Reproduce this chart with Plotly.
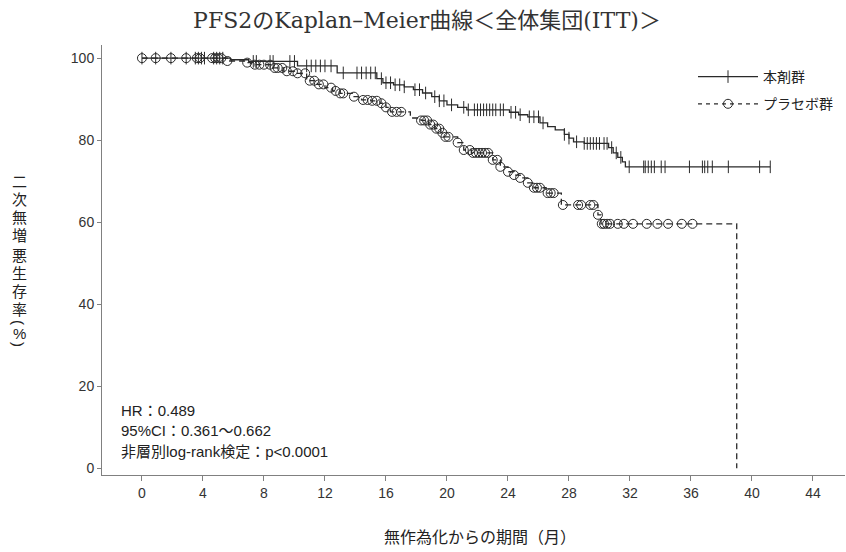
import numpy as np
import plotly.graph_objects as go

# ---- data ----
tx_times = [0, 5.8, 7.0, 10.2, 12.8, 15.4, 15.8, 16.5, 17.2, 17.8, 18.4, 19.0, 19.5, 20.0,
            20.7, 21.3, 24.1, 24.7, 25.3, 26.1, 26.6, 27.1, 27.7, 28.0, 28.3, 29.0, 30.6,
            30.9, 31.2, 31.5, 31.7, 41.2]
tx_surv = [100, 99.6, 99.2, 98.1, 96.4, 95.0, 94.0, 93.5, 93.0, 92.3, 91.5, 90.6, 89.6, 88.6,
           88.0, 87.4, 86.8, 86.2, 85.7, 84.2, 83.3, 82.5, 81.4, 80.5, 79.6, 79.2, 78.2,
           76.9, 75.8, 74.7, 73.5, 73.5]
tx_censor = [0, 0.9, 1.9, 2.9, 3.5, 3.7, 3.9, 4.1, 4.7, 4.9, 5.1, 5.3, 7.3, 7.5, 8.4, 8.6,
             9.7, 10.0, 10.8, 11.1, 11.4, 11.7, 12.0, 12.4, 13.2, 14.1, 14.4, 14.7, 15.0,
             15.3, 15.7, 16.0, 16.3, 16.6, 16.9, 17.2, 17.9, 18.2, 18.6, 19.2, 19.5, 19.8,
             20.3, 21.1, 21.4, 21.8, 22.0, 22.2, 22.4, 22.6, 22.8, 23.0, 23.2, 23.5, 23.7,
             24.2, 24.5, 24.8, 25.4, 25.7, 26.0, 26.3, 27.7, 28.0, 28.5, 29.0, 29.2, 29.4,
             29.6, 29.8, 30.0, 30.3, 30.5, 30.8, 31.1, 31.4, 31.95, 32.9, 33.0, 33.2, 33.4,
             33.6, 34.05, 34.3, 35.9, 36.75, 36.9, 37.1, 37.4, 38.45, 40.5, 41.2]

pl_times = [0, 5.6, 6.9, 7.3, 8.5, 9.3, 10.0, 10.8, 11.5, 12.0, 12.5, 13.0, 13.8, 14.4,
            15.0, 15.6, 16.0, 16.3, 17.6, 18.3, 18.8, 19.2, 19.6, 19.8, 20.7, 21.1, 21.6,
            23.0, 23.5, 24.0, 24.4, 24.8, 25.3, 25.7, 26.5, 27.5, 29.9, 30.1, 39.0]
pl_surv = [100, 99.3, 98.9, 98.4, 97.6, 96.8, 96.3, 94.5, 93.6, 92.8, 92.0, 91.4, 90.6, 89.8,
           89.6, 89.0, 88.0, 86.9, 85.4, 84.8, 83.8, 82.8, 81.8, 80.8, 79.4, 77.6, 76.9,
           75.2, 73.5, 72.3, 71.5, 70.8, 69.6, 68.4, 67.1, 64.2, 61.8, 59.6, 0]
pl_censor = [0, 0.9, 1.9, 2.9, 3.6, 3.8, 4.6, 4.8, 5.0, 5.2, 5.6, 6.9, 7.4, 7.7, 8.0, 8.4,
             8.7, 8.9, 9.2, 9.5, 9.9, 10.2, 10.7, 11.0, 11.3, 11.6, 11.9, 12.4, 12.7, 13.0,
             13.2, 13.9, 14.5, 14.8, 15.1, 15.4, 15.7, 16.0, 16.4, 16.7, 17.0, 18.3, 18.5,
             18.7, 18.9, 19.1, 19.3, 19.5, 19.7, 19.9, 20.1, 20.7, 21.1, 21.5, 21.7, 21.9,
             22.1, 22.3, 22.5, 22.7, 23.0, 23.3, 23.5, 24.0, 24.4, 24.8, 25.3, 25.7, 25.9,
             26.1, 26.6, 26.8, 27.0, 27.6, 28.6, 28.8, 29.4, 29.6, 29.9, 30.15, 30.3, 30.5,
             30.7, 31.2, 31.6, 32.2, 33.1, 33.8, 34.5, 35.4, 36.1]

x_ticks = [0, 4, 8, 12, 16, 20, 24, 28, 32, 36, 40, 44]
y_ticks = [0, 20, 40, 60, 80, 100]

names = ["本剤群", "プラセボ群"]
title_text = "PFS2のKaplan–Meier曲線＜全体集団(ITT)＞"
x_title = "無作為化からの期間（月）"
y_title_chars = ["二", "次", "無", "増", "悪", "生", "存", "率", "(", "%", ")"]
y_title_rot = [0, 0, 0, 0, 0, 0, 0, 0, 90, 0, 90]
y_title_pos = [181, 199, 217, 236, 255, 273, 291, 309, 322, 333, 344]  # layout (px)
stats_lines = ["HR：0.489", "95%CI：0.361〜0.662", "非層別log-rank検定：p<0.0001"]


def surv_at(times, surv, ts):
    times = np.asarray(times)
    surv = np.asarray(surv)
    idx = np.searchsorted(times, np.asarray(ts), side="right") - 1
    return surv[idx]


SANS = "Liberation Sans, Noto Sans CJK JP, sans-serif"
SERIF = "DejaVu Serif, Noto Sans CJK JP, serif"
INK = "#2a2a2a"
AXIS = "#808080"

# plot area in pixels
L, R, T, B = 102, 1, 45, 77
W, H = 846, 552
PW, PH = W - L - R, H - T - B

fig = go.Figure()

# treatment
fig.add_trace(go.Scatter(
    x=tx_times, y=tx_surv, mode="lines", line=dict(color=INK, width=1.3, shape="hv"),
    showlegend=False, hoverinfo="skip"))
fig.add_trace(go.Scatter(
    x=tx_censor, y=surv_at(tx_times, tx_surv, tx_censor), mode="markers",
    marker=dict(symbol="line-ns", size=9, line=dict(color=INK, width=1)),
    showlegend=False, hoverinfo="skip"))

# placebo
fig.add_trace(go.Scatter(
    x=pl_times, y=pl_surv, mode="lines",
    line=dict(color=INK, width=1.3, shape="hv", dash="6px,4px"),
    showlegend=False, hoverinfo="skip"))
fig.add_trace(go.Scatter(
    x=pl_censor, y=surv_at(pl_times, pl_surv, pl_censor), mode="markers",
    marker=dict(symbol="circle-open", size=9, color=INK, line=dict(color=INK, width=1)),
    showlegend=False, hoverinfo="skip"))

# legend entries
fig.add_trace(go.Scatter(
    x=[None], y=[None], mode="lines+markers", name=names[0], legendgroup="a",
    line=dict(color=INK, width=1.3),
    marker=dict(symbol="line-ns", size=9, line=dict(color=INK, width=1))))
fig.add_trace(go.Scatter(
    x=[None], y=[None], mode="lines+markers", name=names[1], legendgroup="b",
    line=dict(color=INK, width=1.3, dash="4px,4px"),
    marker=dict(symbol="circle-open", size=9, color=INK, line=dict(color=INK, width=1))))

annotations = []
for i, s in enumerate(stats_lines):
    annotations.append(dict(
        text=s, xref="paper", yref="paper", x=(119 - L) / PW,
        y=(H - B - (410 + i * 20.5)) / PH,
        xanchor="left", yanchor="middle", showarrow=False,
        font=dict(family=SANS, size=15, color="#222")))

for ch, rot, py in zip(y_title_chars, y_title_rot, y_title_pos):
    annotations.append(dict(
        text=ch, xref="paper", yref="paper", textangle=rot,
        x=(19 - L) / PW, y=(H - B - py) / PH, xanchor="center", yanchor="middle",
        showarrow=False, font=dict(family=SANS, size=15, color="#222")))

annotations.append(dict(
    text=x_title, xref="paper", yref="paper", x=(480 - L) / PW, y=(H - B - 537) / PH,
    xanchor="center", yanchor="middle", showarrow=False,
    font=dict(family=SANS, size=16, color="#222")))

fig.update_layout(
    width=W, height=H,
    margin=dict(l=L, r=R, t=T, b=B),
    paper_bgcolor="white", plot_bgcolor="white",
    annotations=annotations,
    title=dict(text=title_text, x=427 / W, xanchor="center", y=1 - 20 / H,
               yanchor="middle", font=dict(family=SERIF, size=22, color="#333")),
    legend=dict(x=(693 - L) / PW, y=(H - B - 61) / PH, xanchor="left", yanchor="top",
                font=dict(family=SANS, size=14, color="#222"), itemwidth=60,
                tracegroupgap=6, bgcolor="rgba(0,0,0,0)"),
    xaxis=dict(range=[-2.62, 46.1], tickvals=x_ticks, ticks="outside", ticklen=5,
               tickcolor=AXIS, showline=True, linecolor=AXIS, linewidth=1,
               showgrid=False, zeroline=False,
               tickfont=dict(family=SANS, size=14, color="#333")),
    yaxis=dict(range=[-1.63, 103.2], tickvals=y_ticks, ticks="outside", ticklen=4,
               tickcolor=AXIS, showline=True, linecolor=AXIS, linewidth=1,
               showgrid=False, zeroline=False,
               tickfont=dict(family=SANS, size=14, color="#333")),
)

fig.write_html("out.html", config={"displayModeBar": False},
               post_script="document.body.style.margin='0';"
                           "document.body.style.overflow='hidden';")
